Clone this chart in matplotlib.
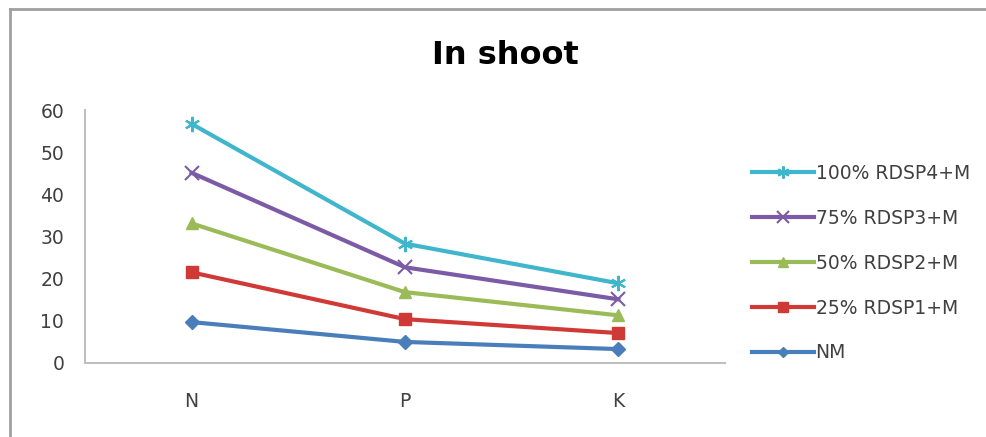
import matplotlib
matplotlib.use("Agg")
import matplotlib.pyplot as plt
from matplotlib.lines import Line2D

categories = ["N", "P", "K"]
series_names = ["NM", "25% RDSP1+M", "50% RDSP2+M", "75% RDSP3+M", "100% RDSP4+M"]
nm = [9.7, 5.0, 3.3]
rdsp1 = [21.5, 10.4, 7.1]
rdsp2 = [33.1, 16.8, 11.3]
rdsp3 = [45.1, 22.7, 15.1]
rdsp4 = [56.7, 28.3, 18.9]
yticks = [0, 10, 20, 30, 40, 50, 60]

series = [nm, rdsp1, rdsp2, rdsp3, rdsp4]
colors = ["#4A7EBB", "#D03A36", "#9BBB59", "#7B5BA6", "#3FB6CC"]
markers = ["D", "s", "^", "x", (6, 2, 0)]
msizes = [7, 9, 9, 10, 11]

fig = plt.figure(figsize=(9.87, 4.37), dpi=100)
ax = fig.add_axes([85/987, 1-363/437, (725-85)/987, (363-110)/437])

x = list(range(len(categories)))
handles = []
for vals, name, c, m, ms in zip(series, series_names, colors, markers, msizes):
    h, = ax.plot(x, vals, color=c, lw=3, marker=m, markersize=ms,
                 markeredgecolor=c, markerfacecolor=c,
                 markeredgewidth=1.5 if (m == "x" or isinstance(m, tuple)) else 1,
                 label=name)
    handles.append(h)

ax.set_xlim(-0.5, 2.5)
ax.set_ylim(0, 60)
ax.set_yticks(yticks)
ax.set_xticks(x)
ax.set_xticklabels(categories)
for s in ["top", "right"]:
    ax.spines[s].set_visible(False)
ax.spines["left"].set_color("#BFBFBF")
ax.spines["bottom"].set_color("#BFBFBF")
ax.spines["left"].set_linewidth(1.5)
ax.spines["bottom"].set_linewidth(1.5)
ax.tick_params(axis="both", length=0, labelsize=13.5, colors="#404040")
ax.tick_params(axis="y", pad=15)
ax.tick_params(axis="x", pad=21)

fig.text(505/987, 1-55/437, "In shoot", ha="center", va="center",
         fontsize=23, fontweight="bold", color="#000000")

leg = fig.legend(handles[::-1], series_names[::-1], loc="upper left",
                 bbox_to_anchor=(735/987, 1-147/437), frameon=False,
                 fontsize=13.5, handlelength=3.3, labelspacing=1.38,
                 handletextpad=0.1, labelcolor="#404040", markerscale=0.8)

# outer frame (top and left visible)
fig.add_artist(Line2D([10/987, 10/987], [0, 1-9/437], transform=fig.transFigure,
                      color="#A0A0A0", lw=2))
fig.add_artist(Line2D([10/987, 1], [1-9/437, 1-9/437], transform=fig.transFigure,
                      color="#A0A0A0", lw=2))

fig.savefig("out.png", dpi=100)
